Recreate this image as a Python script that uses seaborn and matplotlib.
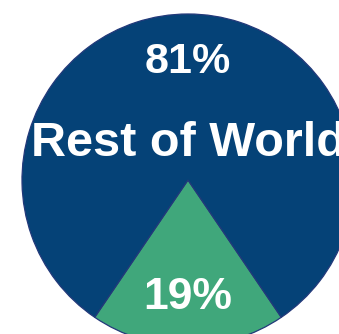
import matplotlib
matplotlib.use("Agg")
import matplotlib.pyplot as plt
import seaborn as sns

# data
regions = ["", "Rest of World"]
shares = [19, 81]
colors = ["#40A77B", "#054277"]

sns.set_theme(style="white")
plt.rcParams["font.family"] = ["Liberation Sans", "DejaVu Sans"]

fig = plt.figure(figsize=(3.39, 3.34), dpi=100)
ax = fig.add_axes([0, 0, 1, 1])

# green slice centred straight down
start = 270 - shares[0] / sum(shares) * 360 / 2
wedges, texts, autotexts = ax.pie(
    shares,
    labels=regions,
    colors=colors,
    startangle=start,
    autopct="%d%%",
    pctdistance=0.71,
    labeldistance=0.22,
    wedgeprops=dict(edgecolor="#23397A", linewidth=0.9),
    textprops=dict(color="white", fontweight="bold"),
)

for t in texts:
    t.set_ha("center")
    t.set_fontsize(35)
for t in autotexts:
    t.set_ha("center")
    t.set_fontsize(31)
autotexts[0].set_fontsize(32)

# circle centre sits at ~(188, 180) px, radius ~166 px
ax.set_aspect("auto")
ax.set_xlim(-188 / 166, (339 - 188) / 166)
ax.set_ylim((180 - 334) / 166, 180 / 166)
ax.axis("off")

fig.savefig("out.png", dpi=100)
